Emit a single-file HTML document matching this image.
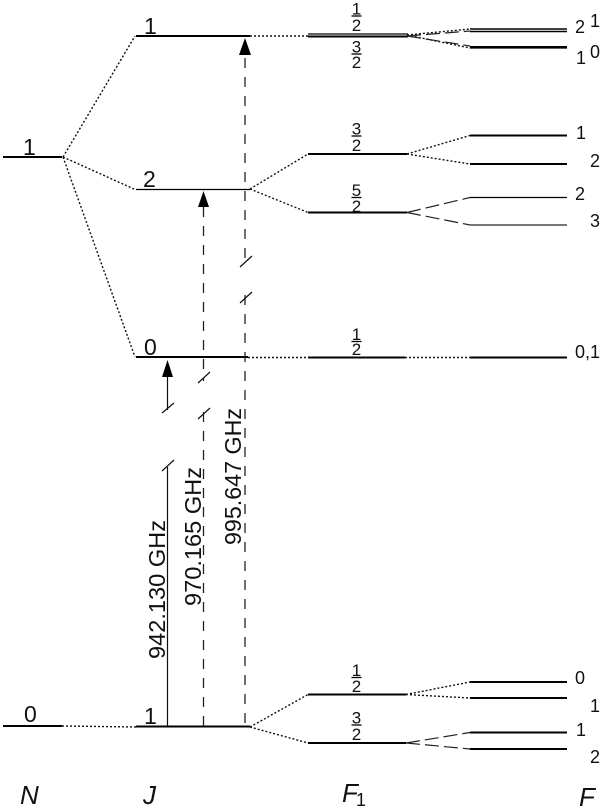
<!DOCTYPE html>
<html><head><meta charset="utf-8"><style>
html,body{margin:0;padding:0;background:#fff}
svg{display:block}
text{font-family:"Liberation Sans",sans-serif;fill:#111}
.l{stroke:#000;stroke-width:2;fill:none}
.t{stroke:#000;stroke-width:1.3;fill:none}
.d{stroke:#111;stroke-width:1.4;stroke-dasharray:2 2;fill:none}
.a{stroke:#222;stroke-width:1.3;stroke-dasharray:10 9;fill:none}
.b{stroke:#222;stroke-width:1.2;stroke-dasharray:14 5;fill:none}
.s{stroke:#111;stroke-width:1.2;fill:none}
.n{font-size:23px}
.f{font-size:17px}
.r{font-size:18px}
.v{font-size:23px}
.i{font-size:26px;font-style:italic}
</style></head><body>
<svg width="600" height="811" viewBox="0 0 600 811" xmlns="http://www.w3.org/2000/svg">
<!-- N levels -->
<path class="l" d="M3 157H62M3 726H62"/>
<!-- J levels -->
<path class="l" d="M136 36H250M136 357H248M136 726.500H250"/>
<path class="t" d="M136 189.500H250"/>
<!-- F1 levels -->
<path class="t" d="M308 34H408"/>
<path class="l" d="M308 36.500H408M308 154H407M308 212.500H407M308 357.500H405M308 694.500H406M308 743H406"/>
<!-- F levels -->
<path class="l" d="M470 29H567" style="stroke-width:1.500"/>
<path class="l" d="M470 31.500H567" style="stroke-width:1.500"/>
<path d="M470 47.300H567" stroke="#000" stroke-width="2.700" fill="none"/>
<path class="l" d="M470 135.500H567M470 164H567M470 357.500H567M470 682H567M470 698H567M470 732.500H567M470 749H567"/>
<path class="t" d="M470 197.500H567"/>
<path d="M470 225H567" stroke="#777" stroke-width="2" fill="none"/>
<!-- Dotted connectors -->
<path class="d" d="M63 157L135 36M63 157L135 189.500M63 157L135 357M62 726L136 727"/>
<path class="d" d="M250 36H308M250 189L308 154M250 189L308 212.500M248 357.500H308M250 727L308 694.500M250 727L308 743"/>
<path class="d" d="M407 154L470 135.500M407 154L470 164M405 357.500H470M406 694.500L470 682M406 694.500L470 698"/>
<path class="d" d="M407 35L470 29M407 35L470 48"/>
<!-- Dashed connectors -->
<path class="b" d="M407 36L470 31M407 36L470 46M407 212.500L470 197.500M407 212.500L470 225M406 743L470 732.500M406 743L470 749"/>
<!-- Transition lines -->
<path class="s" d="M167.500 371V410M167.500 467V726"/>
<path class="a" d="M245 58V267M245 295V726"/>
<path class="a" d="M203.500 207V381M203.500 412V726"/>
<!-- Axis breaks -->
<path class="s" d="M162 413L174 403M162 471L174 460M198 383L210 372M198 419L210 408M240 267L252 256M240 303L252 292"/>
<!-- Arrowheads -->
<path d="M239 55L245 38L251 55Z" fill="#000"/>
<path d="M198 207L203.500 191L209 207Z" fill="#000"/>
<path d="M162 377L167.500 360L173 377Z" fill="#000"/>
<!-- Frequency labels -->
<text class="v" transform="translate(165,659) rotate(-90)" textLength="139" lengthAdjust="spacingAndGlyphs">942.130 GHz</text>
<text class="v" transform="translate(201,606) rotate(-90)" textLength="139" lengthAdjust="spacingAndGlyphs">970.165 GHz</text>
<text class="v" transform="translate(241,545) rotate(-90)" textLength="137" lengthAdjust="spacingAndGlyphs">995.647 GHz</text>
<!-- N / J numbers -->
<text class="n" x="23" y="155">1</text>
<text class="n" x="24" y="722">0</text>
<text class="n" x="144" y="34">1</text>
<text class="n" x="143" y="187">2</text>
<text class="n" x="144" y="355">0</text>
<text class="n" x="144" y="724">1</text>
<!-- F1 fractions -->
<g>
<text class="f" x="356.500" y="14.500" text-anchor="middle">1</text><path class="t" d="M351.500 16H361.500"/><text class="f" x="356.500" y="31" text-anchor="middle">2</text>
<text class="f" x="356.500" y="52.500" text-anchor="middle">3</text><path class="t" d="M351.500 54H361.500"/><text class="f" x="356.500" y="68" text-anchor="middle">2</text>
<text class="f" x="356.500" y="134.500" text-anchor="middle">3</text><path class="t" d="M351.500 136H361.500"/><text class="f" x="356.500" y="151" text-anchor="middle">2</text>
<text class="f" x="356.500" y="196" text-anchor="middle">5</text><path class="t" d="M351.500 197.500H361.500"/><text class="f" x="356.500" y="212" text-anchor="middle">2</text>
<text class="f" x="356.500" y="340" text-anchor="middle">1</text><path class="t" d="M351.500 341.500H361.500"/><text class="f" x="356.500" y="355" text-anchor="middle">2</text>
<text class="f" x="356.500" y="676" text-anchor="middle">1</text><path class="t" d="M351.500 677.500H361.500"/><text class="f" x="356.500" y="692" text-anchor="middle">2</text>
<text class="f" x="356.500" y="723.500" text-anchor="middle">3</text><path class="t" d="M351.500 725H361.500"/><text class="f" x="356.500" y="740" text-anchor="middle">2</text>
</g>
<!-- F numbers -->
<text class="r" x="575" y="33">2</text>
<text class="r" x="590" y="27">1</text>
<text class="r" x="576" y="64">1</text>
<text class="r" x="590" y="58">0</text>
<text class="r" x="576" y="139">1</text>
<text class="r" x="590" y="167">2</text>
<text class="r" x="575" y="200">2</text>
<text class="r" x="590" y="227">3</text>
<text class="r" x="575" y="358">0,1</text>
<text class="r" x="575" y="684">0</text>
<text class="r" x="590" y="712">1</text>
<text class="r" x="576" y="736">1</text>
<text class="r" x="590" y="763">2</text>
<!-- Axis labels -->
<text class="i" x="20" y="804">N</text>
<text class="i" x="143" y="804">J</text>
<text class="i" x="342" y="802">F</text>
<text class="i" x="579" y="806">F</text>
<text x="356" y="806" style="font-size:18px">1</text>
</svg>
</body></html>
